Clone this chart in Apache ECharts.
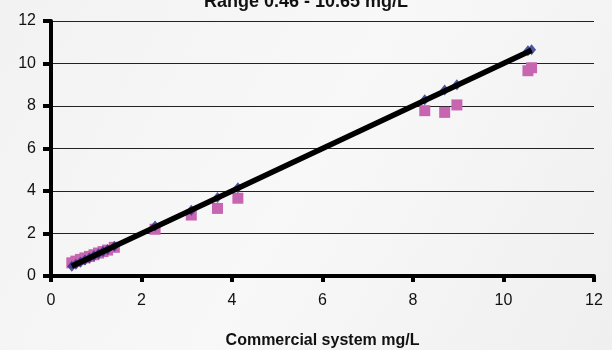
<!DOCTYPE html>
<html>
<head>
<meta charset="utf-8">
<script src="https://cdn.jsdelivr.net/npm/echarts@6/dist/echarts.min.js"></script>
<style>
  html, body { margin: 0; padding: 0; }
  #chart { width: 612px; height: 350px; }
</style>
</head>
<body>
<div id="chart"></div>
<script>
// reference method (blue diamonds) vs commercial system (pink squares)
const xValues = [0.46, 0.55, 0.65, 0.75, 0.85, 0.95, 1.05, 1.15, 1.25, 1.4, 2.3, 3.1, 3.68, 4.13, 8.26, 8.7, 8.97, 10.54, 10.62];
const blueY   = [0.46, 0.55, 0.65, 0.75, 0.85, 0.95, 1.05, 1.15, 1.25, 1.4, 2.35, 3.1, 3.7, 4.15, 8.3, 8.75, 9.0, 10.6, 10.65];
const pinkY   = [0.62, 0.7, 0.78, 0.85, 0.92, 1.0, 1.08, 1.15, 1.22, 1.35, 2.2, 2.87, 3.18, 3.66, 7.78, 7.7, 8.05, 9.66, 9.8];
const trendLine = [[0.46, 0.46], [10.62, 10.62]];
const axisTicks = [0, 2, 4, 6, 8, 10, 12];

const chart = echarts.init(document.getElementById('chart'));

const blueData = xValues.map((x, i) => [x, blueY[i]]);
const pinkData = xValues.map((x, i) => [x, pinkY[i]]);

const axisCommon = {
  type: 'value',
  min: axisTicks[0],
  max: axisTicks[axisTicks.length - 1],
  interval: 2,
  axisLine: { show: true, lineStyle: { color: '#000', width: 4 } },
  axisTick: { show: true, length: 8, lineStyle: { color: '#000', width: 4 } },
  axisLabel: { color: '#111', fontSize: 16, fontFamily: 'Liberation Sans', margin: 15 },
};

chart.setOption({
  backgroundColor: new echarts.graphic.LinearGradient(0, 0, 1, 1, [
    { offset: 0, color: '#f2f2f2' },
    { offset: 0.5, color: '#f8f8f8' },
    { offset: 1, color: '#efefef' }
  ]),
  animation: false,
  title: {
    text: 'Range 0.46 - 10.65 mg/L',
    left: 'center',
    top: -12,
    textStyle: { fontSize: 18, fontWeight: 'bold', color: '#111', fontFamily: 'Liberation Sans' }
  },
  grid: { left: 51, right: 18, top: 21, bottom: 74, outerBoundsMode: 'none', containLabel: false },
  xAxis: Object.assign({}, axisCommon, {
    splitLine: { show: false },
    name: 'Commercial system mg/L',
    nameLocation: 'middle',
    nameGap: 57,
    nameTextStyle: { fontSize: 16, fontWeight: 'bold', color: '#111', fontFamily: 'Liberation Sans' },
    axisTick: { show: true, length: 6, lineStyle: { color: '#000', width: 4 } },
    axisLabel: { color: '#111', fontSize: 16, fontFamily: 'Liberation Sans', margin: 17 }
  }),
  yAxis: Object.assign({}, axisCommon, {
    splitLine: { show: true, lineStyle: { color: '#222', width: 1.2 } }
  }),
  series: [
    {
      name: 'Commercial',
      type: 'scatter',
      data: pinkData,
      symbol: 'rect',
      symbolSize: 11,
      itemStyle: { color: '#c765b0', opacity: 1 },
      z: 2
    },
    {
      name: 'Reference',
      type: 'scatter',
      data: blueData,
      symbol: 'diamond',
      symbolSize: [9, 11],
      itemStyle: { color: '#23308a' },
      z: 3
    },
    {
      name: 'Trend',
      type: 'line',
      data: trendLine,
      showSymbol: false,
      lineStyle: { color: '#000', width: 5.5 },
      z: 4
    }
  ]
});
</script>
</body>
</html>
